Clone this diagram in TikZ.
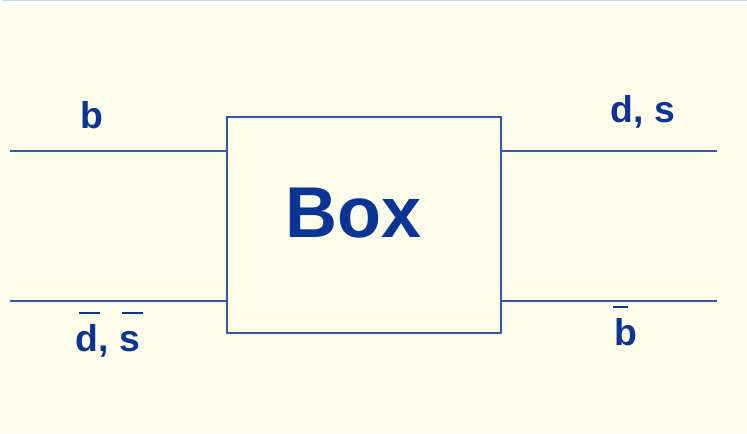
\documentclass[tikz,border=0pt]{standalone}
\usepackage{fontspec}
\setmainfont{Liberation Sans}
\definecolor{paper}{HTML}{FEFDEC}
\definecolor{rim}{HTML}{B4E2E8}
\definecolor{wire}{HTML}{3557A8}
\definecolor{ink}{HTML}{0B3594}
\newcommand{\barred}[3][0.08em]{\leavevmode\rlap{\hspace{#1}\raisebox{0.98em}{\rule{#2}{1.5pt}}}#3}
\begin{document}
\begin{tikzpicture}[
  x=0.75pt, y=-0.75pt,
  blackbox/.style={rectangle, draw=wire, line width=1.3pt, minimum width=205.5pt, minimum height=162pt, inner sep=0pt},
  quark/.style={wire, line width=1.3pt},
  flavour/.style={anchor=base, inner sep=0pt, text=ink, font=\fontsize{28}{30}\selectfont\bfseries},
  title/.style={anchor=base, inner sep=0pt, text=ink, font=\fontsize{54}{60}\selectfont\bfseries},
]
  \useasboundingbox (0,0) rectangle (747,433);
  \fill[white] (0,0) rectangle (747,5);
  \fill[paper] (0,5) rectangle (747,433);
  \draw[rim, line width=1pt] (2,0.7) -- (747,0.7);

  \node[blackbox] (box) at (364, 225) {};
  \node[title] (boxlabel) at (354, 237) {Box};

  \coordinate (inb) at (10, 151);
  \coordinate (inbar) at (10, 301);
  \coordinate (outq) at (717, 151);
  \coordinate (outbar) at (717, 301);

  \draw[quark] (inb) -- (inb -| box.west);
  \draw[quark] (inbar) -- (inbar -| box.west);
  \draw[quark] (outq -| box.east) -- (outq);
  \draw[quark] (outbar -| box.east) -- (outbar);

  \node[flavour] (b) at (92, 128) {b};
  \node[flavour] (ds) at (643, 122) {d, s};
  \node[flavour] (dsbar) at (108, 351) {\barred{0.56em}{d}, \barred{0.56em}{s}};
  \node[flavour] (bbar) at (626, 345) {\barred[-0.05em]{0.4em}{b}};
\end{tikzpicture}
\end{document}
